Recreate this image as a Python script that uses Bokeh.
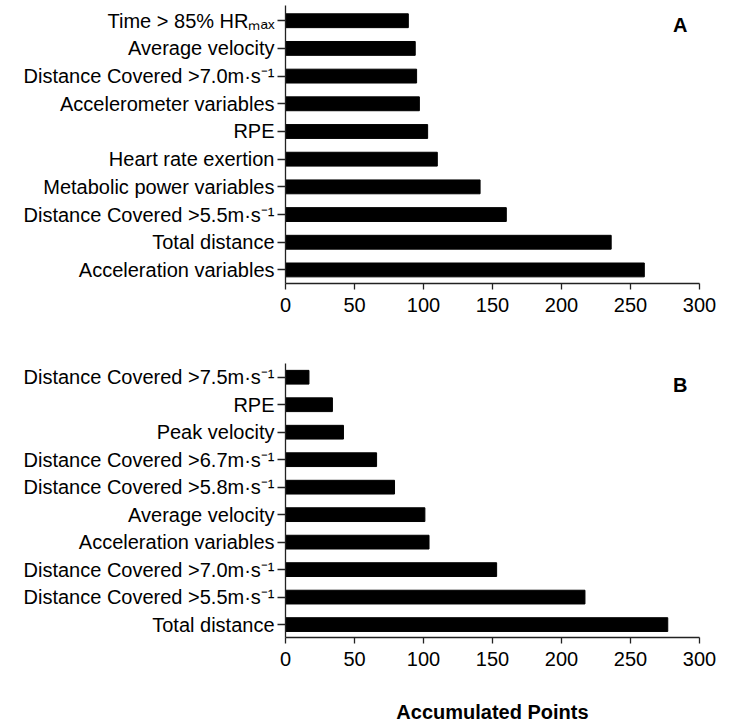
import numpy as np
from bokeh.plotting import figure
from bokeh.models import Range1d, Label, FixedTicker
from bokeh.layouts import column
from bokeh.embed import file_html
from bokeh.resources import INLINE

# ---- data (top to bottom as displayed) ----
cats_a = ["Time > 85% HRₘₐₓ", "Average velocity", "Distance Covered >7.0m·s⁻¹",
          "Accelerometer variables", "RPE", "Heart rate exertion",
          "Metabolic power variables", "Distance Covered >5.5m·s⁻¹",
          "Total distance", "Acceleration variables"]
vals_a = [89, 94, 95, 97, 103, 110, 141, 160, 236, 260]

cats_b = ["Distance Covered >7.5m·s⁻¹", "RPE", "Peak velocity",
          "Distance Covered >6.7m·s⁻¹", "Distance Covered >5.8m·s⁻¹",
          "Average velocity", "Acceleration variables",
          "Distance Covered >7.0m·s⁻¹", "Distance Covered >5.5m·s⁻¹",
          "Total distance"]
vals_b = [17, 34, 42, 66, 79, 101, 104, 153, 217, 277]

x_ticks = [0, 50, 100, 150, 200, 250, 300]
panel_letters = ["A", "B"]
x_label = "Accumulated Points"

FONT = "Liberation Sans"


def make_panel(cats, vals, letter, height, top, bottom, y_lo, y_hi, letter_y, xlabel=None):
    n = len(cats)
    ys = np.arange(n)[::-1].astype(float)
    p = figure(width=731, height=height, output_backend="svg", toolbar_location=None,
               x_range=Range1d(0, 300), y_range=Range1d(y_lo, y_hi),
               min_border_left=285, min_border_right=32,
               min_border_top=top, min_border_bottom=bottom)
    p.outline_line_color = None
    p.xgrid.visible = False
    p.ygrid.visible = False
    p.background_fill_color = "white"
    p.border_fill_color = "white"

    p.hbar(y=ys, right=vals, left=0, height=0.5, color="black")

    # x axis
    p.xaxis.ticker = FixedTicker(ticks=x_ticks)
    p.xaxis.major_tick_in = 0
    p.xaxis.major_tick_out = 6
    p.xaxis.minor_tick_line_color = None
    p.xaxis.axis_line_width = 1.3
    p.xaxis.major_tick_line_width = 1.3
    p.xaxis.axis_line_color = "#222222"
    p.xaxis.major_tick_line_color = "#222222"
    p.xaxis.major_label_text_font = FONT
    p.xaxis.major_label_text_font_size = "20px"
    p.xaxis.major_label_text_color = "black"
    p.xaxis.major_label_standoff = 8

    # y axis with category labels
    p.yaxis.ticker = FixedTicker(ticks=list(ys))
    p.yaxis.major_label_overrides = {float(v): c for v, c in zip(ys, cats)}
    p.yaxis.major_label_text_font = FONT
    p.yaxis.major_label_text_font_size = "20px"
    p.yaxis.major_label_text_color = "black"
    p.yaxis.major_label_standoff = 3
    p.yaxis.major_tick_in = 0
    p.yaxis.major_tick_out = 8
    p.yaxis.minor_tick_line_color = None
    p.yaxis.axis_line_width = 1.3
    p.yaxis.major_tick_line_width = 1.3
    p.yaxis.axis_line_color = "#222222"
    p.yaxis.major_tick_line_color = "#222222"

    p.add_layout(Label(x=286, y=letter_y, text=letter, text_align="center",
                       text_baseline="alphabetic", text_font=FONT,
                       text_font_size="20px", text_font_style="bold", text_color="black"))
    if xlabel:
        p.xaxis.axis_label = xlabel
        p.xaxis.axis_label_text_font = FONT
        p.xaxis.axis_label_text_font_size = "20px"
        p.xaxis.axis_label_text_font_style = "bold"
        p.xaxis.axis_label_text_color = "black"
        p.xaxis.axis_label_standoff = 32
    return p


p1 = make_panel(cats_a, vals_a, panel_letters[0], 335, 5, 52, -0.49, 9.55, 8.84)
p2 = make_panel(cats_b, vals_b, panel_letters[1], 390, 28, 86, -0.47, 9.5, 8.73, x_label)

layout = column(p1, p2, spacing=0)
open("out.html", "w").write(file_html(layout, INLINE))
